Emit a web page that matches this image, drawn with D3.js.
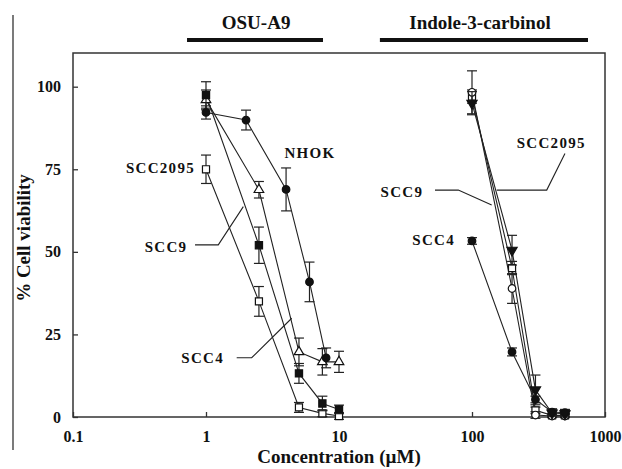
<!DOCTYPE html>
<html>
<head>
<meta charset="utf-8">
<script src="https://cdn.jsdelivr.net/npm/d3@7"></script>
<style>
body { margin: 0; background: #fff; }
text { font-family: "Liberation Serif", "Times New Roman", serif; font-weight: bold; fill: #111; }
</style>
</head>
<body>
<div id="chart"></div>
<script>
// OSU-A9 panel (uM)
var osuConc = [1, 2.5, 5, 7.5, 10];
var nhokConc = [1, 2, 4, 6, 8];
var nhokVal = [92.2, 89.9, 68.9, 40.9, 17.9];
var nhokErr = [2, 3, 6.5, 6, 3];
var osuScc9Val = [97.5, 52, 13.2, 4.1, 2.3];
var osuScc9Err = [4, 5.5, 3, 2.2, 1.3];
var osuScc4Val = [96, 68.8, 19.7, 16.7, 16.7];
var osuScc4Err = [3, 2.5, 4.2, 4, 3.2];
var osuScc2095Val = [75, 35, 2.9, 1.1, 0.3];
var osuScc2095Err = [4.3, 4.5, 1.5, 1, 1];

// Indole-3-carbinol panel (uM)
var i3cConc = [100, 200, 300, 400, 500];
var i3cScc2095Val = [95, 50.5, 8.2, 1.2, 1];
var i3cScc2095Err = [3.5, 4.5, 4.5, 1, 1];
var i3cScc9Val = [98.3, 38.9, 0.6, 0.3, 0.3];
var i3cScc9Err = [6.5, 4.5, 1, 0.5, 0.5];
var i3cSquareVal = [97, 45.1, 2, 0.5, 0.5];
var i3cSquareErr = [2, 2, 1, 0.5, 0.5];
var i3cScc4Val = [53.3, 19.7, 5.3, 1.5, 1.3];
var i3cScc4Err = [1, 1.2, 1, 1, 1];

var xTicks = [0.1, 1, 10, 100, 1000];
var yTicks = [0, 25, 50, 75, 100];

// labels placed in data space: [text, conc, value, anchor]
var labelTexts = ['NHOK', 'SCC2095', 'SCC9', 'SCC4', 'SCC2095', 'SCC9', 'SCC4'];
var labelConc = [6.05, 0.827, 0.724, 1.365, 216.8, 43.0, 74.5];
var labelVal = [78.5, 73.9, 50.0, 16.3, 81.4, 66.6, 52.1];
var labelAnchor = ['middle', 'end', 'end', 'end', 'start', 'end', 'end'];
// leader lines, as [conc, value] points
var leaders = [
    [[0.827, 52.1], [1.237, 52.1], [1.908, 63.7]],
    [[1.701, 17.95], [2.206, 17.95], [4.41, 29.9]],
    [[500, 79.8], [364.6, 68.7], [153.4, 68.7]],
    [[52.7, 68.7], [78.9, 68.7], [140.6, 64.2]]
];

var width = 622, height = 469;
var svg = d3.select('#chart').append('svg')
    .attr('width', width)
    .attr('height', height);

var x = d3.scaleLog().domain([0.1, 1000]).range([73, 605]);
var y = d3.scaleLinear().domain([0, 110.2]).range([417, 53]);

// frame
svg.append('rect')
    .attr('x', 73).attr('y', 53)
    .attr('width', 605 - 73).attr('height', 417 - 53)
    .attr('fill', 'none').attr('stroke', '#333').attr('stroke-width', 1.5);

// stray line on the left edge of the figure
svg.append('line')
    .attr('x1', 13).attr('x2', 13).attr('y1', 15).attr('y2', 450)
    .attr('stroke', '#222').attr('stroke-width', 1.2);

var yAxis = svg.append('g')
    .attr('transform', 'translate(73,0)')
    .call(d3.axisLeft(y).tickValues(yTicks).tickSizeInner(-5).tickSizeOuter(0).tickPadding(12));
var xAxis = svg.append('g')
    .attr('transform', 'translate(0,417)')
    .call(d3.axisBottom(x).tickValues(xTicks).tickFormat(d3.format('~g')).tickSizeInner(-5).tickSizeOuter(0).tickPadding(14));
[yAxis, xAxis].forEach(function (a) {
    a.select('.domain').remove();
    a.selectAll('.tick line').attr('stroke', '#333').attr('stroke-width', 1.3);
    a.selectAll('.tick text').style('font-size', '16px').style('font-family', null).attr('fill', '#111');
});

svg.append('text')
    .attr('x', (73 + 605) / 2).attr('y', 463)
    .attr('text-anchor', 'middle').style('font-size', '19px')
    .text('Concentration (\u00b5M)');
svg.append('text')
    .attr('transform', 'translate(30,' + 238 + ') rotate(-90)')
    .attr('text-anchor', 'middle').style('font-size', '19px')
    .text('% Cell viability');

// drug headings with bars
var heads = [['OSU-A9', 2.38, 0.72, 7.58], ['Indole-3-carbinol', 114.8, 20.3, 745]];
heads.forEach(function (h) {
    svg.append('text')
        .attr('x', x(h[1])).attr('y', 29)
        .attr('text-anchor', 'middle').style('font-size', '19px')
        .text(h[0]);
    svg.append('line')
        .attr('x1', x(h[2])).attr('x2', x(h[3]))
        .attr('y1', 40).attr('y2', 40)
        .attr('stroke', '#111').attr('stroke-width', 4);
});

var series = [
    {conc: osuConc, val: osuScc2095Val, err: osuScc2095Err, shape: d3.symbolSquare, size: 50, fill: false},
    {conc: osuConc, val: osuScc4Val, err: osuScc4Err, shape: d3.symbolTriangle, size: 40, fill: false},
    {conc: osuConc, val: osuScc9Val, err: osuScc9Err, shape: d3.symbolSquare, size: 52, fill: true},
    {conc: nhokConc, val: nhokVal, err: nhokErr, shape: d3.symbolCircle, size: 45, fill: true},
    {conc: i3cConc, val: i3cSquareVal, err: i3cSquareErr, shape: d3.symbolSquare, size: 50, fill: false},
    {conc: i3cConc, val: i3cScc9Val, err: i3cScc9Err, shape: d3.symbolCircle, size: 45, fill: false},
    {conc: i3cConc, val: i3cScc2095Val, err: i3cScc2095Err, shape: d3.symbolTriangle, size: 45, fill: true, down: true},
    {conc: i3cConc, val: i3cScc4Val, err: i3cScc4Err, shape: d3.symbolCircle, size: 45, fill: true}
];

var line = d3.line()
    .x(function (d) { return x(d[0]); })
    .y(function (d) { return y(d[1]); });

series.forEach(function (s) {
    var pts = s.conc.map(function (c, i) { return [c, s.val[i], s.err[i]]; });
    svg.append('path')
        .attr('d', line(pts))
        .attr('fill', 'none').attr('stroke', '#222').attr('stroke-width', 1.1);
});

series.forEach(function (s) {
    var pts = s.conc.map(function (c, i) { return [c, s.val[i], s.err[i]]; });
    var g = svg.append('g');
    var eb = g.selectAll('g.eb').data(pts).enter().append('g')
        .attr('stroke', '#222').attr('stroke-width', 1.2);
    eb.append('line')
        .attr('x1', function (d) { return x(d[0]); })
        .attr('x2', function (d) { return x(d[0]); })
        .attr('y1', function (d) { return y(d[1] - d[2]); })
        .attr('y2', function (d) { return y(d[1] + d[2]); });
    [-1, 1].forEach(function (sgn) {
        eb.append('line')
            .attr('x1', function (d) { return x(d[0]) - 5; })
            .attr('x2', function (d) { return x(d[0]) + 5; })
            .attr('y1', function (d) { return y(d[1] + sgn * d[2]); })
            .attr('y2', function (d) { return y(d[1] + sgn * d[2]); });
    });
    g.selectAll('path').data(pts).enter().append('path')
        .attr('d', d3.symbol().type(s.shape).size(s.size))
        .attr('transform', function (d) {
            return 'translate(' + x(d[0]) + ',' + y(d[1]) + ')' + (s.down ? ' rotate(180)' : '');
        })
        .attr('fill', s.fill ? '#111' : '#fff')
        .attr('stroke', '#111').attr('stroke-width', 1.2);
});

// leader lines and series labels
leaders.forEach(function (l) {
    svg.append('path')
        .attr('d', line(l))
        .attr('fill', 'none').attr('stroke', '#222').attr('stroke-width', 1.1);
});
labelTexts.forEach(function (t, i) {
    svg.append('text')
        .attr('x', x(labelConc[i])).attr('y', y(labelVal[i]))
        .attr('text-anchor', labelAnchor[i])
        .style('font-size', '15px').style('letter-spacing', '1.3px')
        .text(t);
});
</script>
</body>
</html>
